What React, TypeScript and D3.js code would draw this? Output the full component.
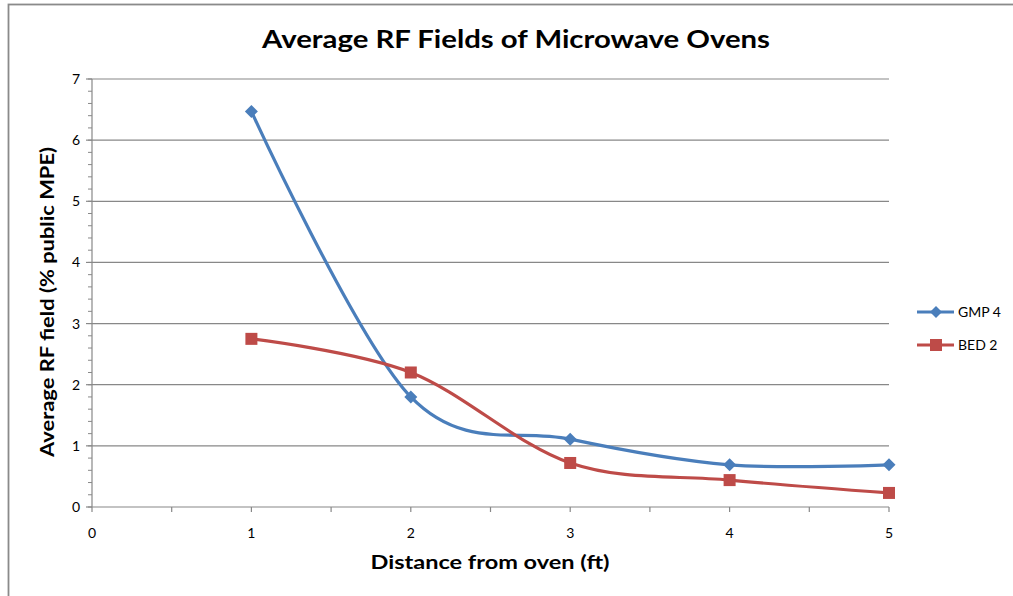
import React from "react";
import * as d3 from "d3";

const distances = [1, 2, 3, 4, 5];
const gmp4 = [6.47, 1.8, 1.11, 0.69, 0.69];
const bed2 = [2.75, 2.2, 0.72, 0.44, 0.23];
const seriesNames = ["GMP 4", "BED 2"];
const seriesColors = ["#4A7EBB", "#BE4B48"];
const xTicks = [0, 1, 2, 3, 4, 5];
const yTicks = [0, 1, 2, 3, 4, 5, 6, 7];

const W = 1013;
const H = 596;
const FONT = "Lato, 'Open Sans', 'DejaVu Sans', sans-serif";

export default function App() {
  const x = d3.scaleLinear().domain([0, 5]).range([92, 889]);
  const y = d3.scaleLinear().domain([0, 7]).range([507, 79]);
  const line = d3
    .line<number>()
    .x((_, i) => x(distances[i]))
    .y((v) => y(v))
    .curve(d3.curveCatmullRom.alpha(0));

  const minorY = d3.range(0, 7.001, 0.2);
  const minorX = d3.range(0, 5.001, 0.5);
  const series = [gmp4, bed2];

  const diamond = (cx: number, cy: number, r: number) =>
    `M${cx},${cy - r}L${cx + r},${cy}L${cx},${cy + r}L${cx - r},${cy}Z`;

  return (
    <svg width={W} height={H} style={{ position: "absolute", left: 0, top: 0 }}>
      <rect x={0} y={0} width={W} height={H} fill="#fff" />
      <rect x={8.5} y={4.5} width={W + 20} height={H + 20} fill="#fff" stroke="#8a8a8a" strokeWidth={1.8} />
      <text
        x={516}
        y={48}
        textAnchor="middle"
        fontFamily={FONT}
        fontWeight="bold"
        fontSize={24}
        textLength={508}
        lengthAdjust="spacingAndGlyphs"
        fill="#000"
      >
        Average RF Fields of Microwave Ovens
      </text>

      {yTicks.filter((t) => t > 0).map((t) => (
        <line key={"g" + t} x1={x(0)} x2={x(5)} y1={y(t)} y2={y(t)} stroke="#888" strokeWidth={1.2} />
      ))}
      <line x1={x(0)} x2={x(0)} y1={y(0)} y2={y(7)} stroke="#888" strokeWidth={1.2} />
      {minorY.map((t, i) => (
        <line key={"my" + i} x1={x(0) - 4} x2={x(0)} y1={y(t)} y2={y(t)} stroke="#888" strokeWidth={1} />
      ))}
      {yTicks.map((t) => (
        <line key={"My" + t} x1={x(0) - 6} x2={x(0)} y1={y(t)} y2={y(t)} stroke="#888" strokeWidth={1.2} />
      ))}
      {yTicks.map((t) => (
        <text key={"ly" + t} x={80} y={y(t) + 5} textAnchor="end" fontFamily={FONT} fontSize={14} fill="#000">
          {t}
        </text>
      ))}
      <line x1={x(0)} x2={x(5)} y1={y(0)} y2={y(0)} stroke="#888" strokeWidth={1.2} />
      {minorX.map((t, i) => (
        <line key={"mx" + i} x1={x(t)} x2={x(t)} y1={y(0)} y2={y(0) + 5} stroke="#888" strokeWidth={1.2} />
      ))}
      {xTicks.map((t) => (
        <text key={"lx" + t} x={x(t)} y={538} textAnchor="middle" fontFamily={FONT} fontSize={14} fill="#000">
          {t}
        </text>
      ))}

      <text
        x={490}
        y={569}
        textAnchor="middle"
        fontFamily={FONT}
        fontWeight="bold"
        fontSize={18}
        textLength={239}
        lengthAdjust="spacingAndGlyphs"
      >
        Distance from oven (ft)
      </text>
      <text
        transform={`translate(54,302) rotate(-90)`}
        textAnchor="middle"
        fontFamily={FONT}
        fontWeight="bold"
        fontSize={18}
        textLength={310}
        lengthAdjust="spacingAndGlyphs"
      >
        Average RF field (% public MPE)
      </text>

      {series.map((s, si) => (
        <g key={"s" + si}>
          <path d={line(s) || ""} fill="none" stroke={seriesColors[si]} strokeWidth={3.2} strokeLinejoin="round" />
          {s.map((v, i) =>
            si === 0 ? (
              <path key={i} d={diamond(x(distances[i]), y(v), 6.5)} fill={seriesColors[si]} />
            ) : (
              <rect key={i} x={x(distances[i]) - 6} y={y(v) - 6} width={12} height={12} fill={seriesColors[si]} />
            )
          )}
        </g>
      ))}

      {seriesNames.map((n, i) => {
        const ly = 312 + i * 33;
        return (
          <g key={"lg" + i}>
            <line x1={917} x2={954} y1={ly} y2={ly} stroke={seriesColors[i]} strokeWidth={3.2} />
            {i === 0 ? (
              <path d={diamond(936, ly, 6)} fill={seriesColors[i]} />
            ) : (
              <rect x={930} y={ly - 6} width={12} height={12} fill={seriesColors[i]} />
            )}
            <text x={958} y={ly + 5} fontFamily={FONT} fontSize={14} fill="#000">
              {n}
            </text>
          </g>
        );
      })}
    </svg>
  );
}
